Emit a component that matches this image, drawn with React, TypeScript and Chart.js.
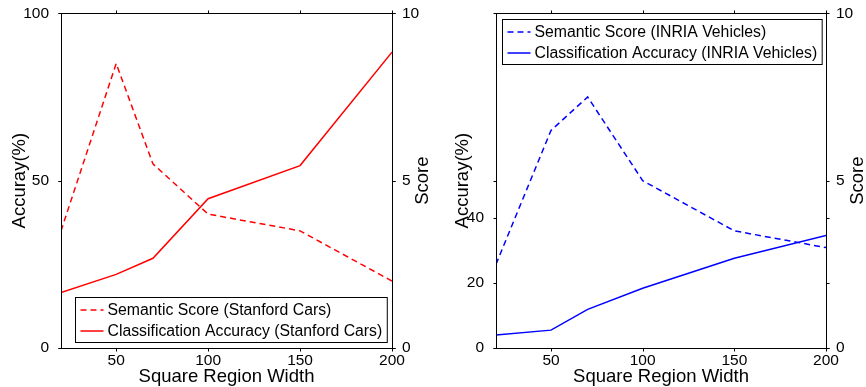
import React, { useEffect, useRef } from "react";
import { Chart, registerables } from "chart.js";
Chart.register(...registerables);

const regionWidths = [20, 50, 70, 100, 150, 200];
const xTickValues = [50, 100, 150, 200];
const scoreTickValues = [0, 5, 10];

const carsSemanticScore = [3.5, 8.5, 5.5, 4.0, 3.5, 2.0];
const carsAccuracy = [16.6, 22.0, 26.8, 44.6, 54.5, 88.4];
const carsAccuracyTicks = [0, 50, 100];

const inriaSemanticScore = [2.5, 6.5, 7.5, 5.0, 3.5, 3.0];
const inriaAccuracy = [4.0, 5.5, 11.9, 18.4, 27.6, 34.6];
const inriaAccuracyTicks = [0, 20, 40];

const FONT = '"Liberation Sans", Arial, Helvetica, sans-serif';

type PanelCfg = {
  semantic: number[];
  accuracy: number[];
  color: string;
  semLabel: string;
  accLabel: string;
  accTicks: number[];
  accMax: number;
  legendCorner: "bottomRight" | "topLeft";
  leftWidth: number;
  rightWidth: number;
  leftTitleX: number;
  rightTitleX: number;
};

const framePlugin = {
  id: "frame",
  afterDraw(chart: any, _args: any, opts: any) {
    const { ctx, chartArea: a, scales } = chart;
    const L = Math.round(a.left) + 0.5;
    const R = Math.round(a.right) + 0.5;
    const T = Math.round(a.top) + 0.5;
    const B = Math.round(a.bottom) + 0.5;
    ctx.save();
    ctx.strokeStyle = "#000";
    ctx.lineWidth = 1;
    ctx.strokeRect(L, T, R - L, B - T);
    const tl = 3;
    ctx.beginPath();
    scales.x.ticks.forEach((t: any) => {
      const px = Math.round(scales.x.getPixelForValue(t.value)) + 0.5;
      ctx.moveTo(px, B);
      ctx.lineTo(px, B + tl);
      ctx.moveTo(px, T);
      ctx.lineTo(px, T - tl);
    });
    ["yAcc", "yScore"].forEach((id) => {
      const s = scales[id];
      s.ticks.forEach((t: any) => {
        const py = Math.round(s.getPixelForValue(t.value)) + 0.5;
        ctx.moveTo(L - tl, py);
        ctx.lineTo(L, py);
        ctx.moveTo(R, py);
        ctx.lineTo(R + tl, py);
      });
    });
    ctx.stroke();

    // axis titles
    ctx.fillStyle = "#000";
    ctx.font = `18.5px ${FONT}`;
    ctx.textAlign = "center";
    ctx.textBaseline = "middle";
    const cy = (a.top + a.bottom) / 2;
    [opts.leftTitleX, opts.rightTitleX].forEach((x: number, i: number) => {
      ctx.save();
      ctx.translate(x, cy);
      ctx.rotate(-Math.PI / 2);
      ctx.fillText(i === 0 ? opts.leftTitle : opts.rightTitle, 0, 0);
      ctx.restore();
    });
    ctx.fillText(opts.xTitle, (a.left + a.right) / 2, 377);

    // legend
    ctx.font = `15.8px ${FONT}`;
    ctx.textAlign = "left";
    const ds = chart.data.datasets;
    const textW = Math.max(...ds.map((d: any) => ctx.measureText(d.label).width));
    const pad = 5, sample = 23, gap = 4;
    const w = pad + sample + gap + textW + pad;
    const h = 45;
    let bx: number, by: number;
    if (opts.legendCorner === "bottomRight") {
      bx = a.right - 5 - w;
      by = a.bottom - 6 - h;
    } else {
      bx = a.left + 6;
      by = a.top + 6;
    }
    bx = Math.round(bx) + 0.5;
    by = Math.round(by) + 0.5;
    ctx.fillStyle = "#fff";
    ctx.fillRect(bx, by, w, h);
    ctx.strokeStyle = "#000";
    ctx.lineWidth = 1;
    ctx.strokeRect(bx, by, w, h);
    ds.forEach((d: any, i: number) => {
      const ry = by + 12.5 + i * 21;
      ctx.save();
      ctx.strokeStyle = d.borderColor;
      ctx.lineWidth = d.borderWidth;
      ctx.setLineDash(d.borderDash || []);
      ctx.beginPath();
      ctx.moveTo(bx + pad, ry);
      ctx.lineTo(bx + pad + sample, ry);
      ctx.stroke();
      ctx.restore();
      ctx.fillStyle = "#000";
      ctx.fillText(d.label, bx + pad + sample + gap, ry + 1);
    });
    ctx.restore();
  },
};

function Panel({ cfg }: { cfg: PanelCfg }) {
  const ref = useRef<HTMLCanvasElement>(null);
  useEffect(() => {
    if (!ref.current) return;
    const pts = (vals: number[]) => regionWidths.map((x, i) => ({ x, y: vals[i] }));
    const chart = new Chart(ref.current, {
      type: "line",
      data: {
        datasets: [
          {
            label: cfg.semLabel,
            data: pts(cfg.semantic),
            yAxisID: "yScore",
            borderColor: cfg.color,
            borderWidth: 1.5,
            borderDash: [6, 4],
            pointRadius: 0,
            tension: 0,
            fill: false,
          },
          {
            label: cfg.accLabel,
            data: pts(cfg.accuracy),
            yAxisID: "yAcc",
            borderColor: cfg.color,
            borderWidth: 1.5,
            pointRadius: 0,
            tension: 0,
            fill: false,
          },
        ],
      },
      options: {
        animation: false,
        responsive: false,
        devicePixelRatio: 1,
        layout: { padding: { top: 11, left: 0, right: 0, bottom: 0 } },
        plugins: {
          legend: { display: false },
          tooltip: { enabled: false },
          frame: {
            legendCorner: cfg.legendCorner,
            leftTitleX: cfg.leftTitleX,
            rightTitleX: cfg.rightTitleX,
            leftTitle: "Accuray(%)",
            rightTitle: "Score",
            xTitle: "Square Region Width",
          },
        } as any,
        scales: {
          x: {
            type: "linear",
            min: 20,
            max: 200,
            grid: { display: false },
            border: { display: false },
            ticks: { color: "#000", font: { size: 15.5, family: FONT }, padding: -5, maxRotation: 0 },
            afterBuildTicks: (s: any) => {
              s.ticks = xTickValues.map((value) => ({ value }));
            },
            afterFit: (s: any) => {
              s.height = 39;
            },
          },
          yAcc: {
            type: "linear",
            position: "left",
            min: 0,
            max: cfg.accMax,
            grid: { display: false },
            border: { display: false },
            ticks: { color: "#000", font: { size: 15.5, family: FONT }, padding: 4 },
            afterBuildTicks: (s: any) => {
              s.ticks = cfg.accTicks.map((value) => ({ value }));
            },
            afterFit: (s: any) => {
              s.width = cfg.leftWidth;
            },
          },
          yScore: {
            type: "linear",
            position: "right",
            min: 0,
            max: 10,
            grid: { display: false },
            border: { display: false },
            ticks: { color: "#000", font: { size: 15.5, family: FONT }, padding: 2 },
            afterBuildTicks: (s: any) => {
              s.ticks = scoreTickValues.map((value) => ({ value }));
            },
            afterFit: (s: any) => {
              s.width = cfg.rightWidth;
            },
          },
        },
      },
      plugins: [framePlugin],
    });
    return () => chart.destroy();
  }, [cfg]);
  return <canvas ref={ref} width={433} height={387} style={{ display: "block", width: 433, height: 387 }} />;
}

const carsCfg: PanelCfg = {
  semantic: carsSemanticScore,
  accuracy: carsAccuracy,
  color: "#ff0000",
  semLabel: "Semantic Score (Stanford Cars)",
  accLabel: "Classification Accuracy (Stanford Cars)",
  accTicks: carsAccuracyTicks,
  accMax: 100,
  legendCorner: "bottomRight",
  leftWidth: 61,
  rightWidth: 41,
  leftTitleX: 20,
  rightTitleX: 423,
};

const inriaCfg: PanelCfg = {
  semantic: inriaSemanticScore,
  accuracy: inriaAccuracy,
  color: "#0000ff",
  semLabel: "Semantic Score (INRIA Vehicles)",
  accLabel: "Classification Accuracy (INRIA Vehicles)",
  accTicks: inriaAccuracyTicks,
  accMax: 103,
  legendCorner: "topLeft",
  leftWidth: 63,
  rightWidth: 40,
  leftTitleX: 30,
  rightTitleX: 425,
};

export default function App() {
  return (
    <div style={{ position: "fixed", left: 0, top: 0, width: 866, height: 387, background: "#fff", display: "flex" }}>
      <Panel cfg={carsCfg} />
      <Panel cfg={inriaCfg} />
    </div>
  );
}
